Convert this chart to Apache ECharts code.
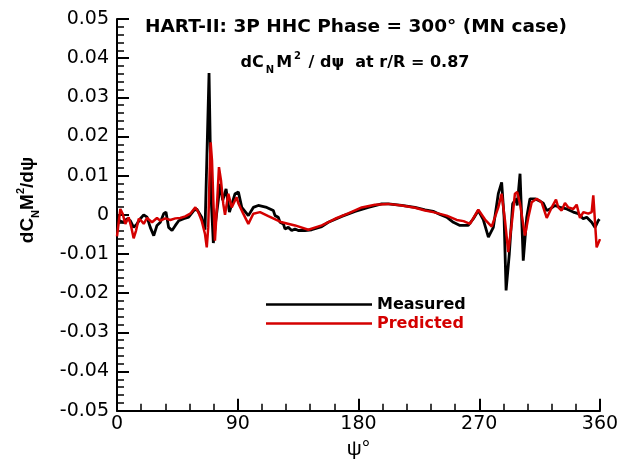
<!DOCTYPE html>
<html>
<head>
<meta charset="utf-8">
<script src="https://cdn.jsdelivr.net/npm/echarts/dist/echarts.min.js"></script>
<style>
html,body{margin:0;padding:0;background:#fff;}
#chart{width:629px;height:465px;}
</style>
</head>
<body>
<div id="chart"></div>
<script>
// Azimuth (deg) and dCnM^2/dpsi values
const measuredPsi = [0.4,1.7,5.0,7.5,9.9,12.4,14.9,17.4,19.9,22.4,24.8,27.4,29.8,32.3,34.8,36.5,38.5,41.0,43.5,46.0,49.7,53.4,57.2,59.4,63.1,65.6,68.6,70.2,71.8,73.6,75.5,76.8,78.8,81.3,83.8,88.0,90.5,93.0,97.9,101.6,105.3,111.6,116.5,117.8,120.2,121.5,124.0,125.2,127.7,130.2,132.7,135.1,140.1,145.1,152.6,157.5,167.5,177.4,187.3,197.3,202.2,212.2,222.1,229.6,235.7,240.7,245.7,250.7,255.6,261.8,265.6,269.3,273.0,276.8,280.5,284.2,286.7,288.5,290.0,292.4,294.9,297.4,298.3,300.4,302.8,305.4,307.8,311.5,315.3,317.7,320.3,322.7,326.5,330.2,335.2,340.1,343.8,347.5,350.1,353.8,356.3,358.7,359.6];
const measuredValue = [0.0,-0.0015,-0.0019,-0.001,-0.0015,-0.0032,-0.0023,-0.001,0.0,-0.0006,-0.0032,-0.0053,-0.0027,-0.0019,0.0003,0.0007,-0.0032,-0.004,-0.0027,-0.0015,-0.001,-0.0006,0.0011,0.0015,-0.0006,-0.0038,0.0362,0.004,-0.0072,-0.0015,0.0037,0.0079,0.0037,0.0066,0.0007,0.0054,0.0058,0.0019,-0.0002,0.0019,0.0024,0.0019,0.0011,-0.0002,-0.0006,-0.0019,-0.0023,-0.0036,-0.0032,-0.004,-0.0036,-0.004,-0.004,-0.0038,-0.003,-0.0019,-0.0004,0.0009,0.0019,0.0028,0.0028,0.0024,0.0019,0.0013,0.0009,0.0001,-0.0006,-0.0019,-0.0027,-0.0027,-0.001,0.0011,-0.0012,-0.0057,-0.0032,0.0054,0.0083,-0.0006,-0.0193,-0.01,0.0028,0.0041,0.0024,0.0105,-0.0117,-0.0006,0.0041,0.0041,0.0035,0.003,0.0011,0.0015,0.0024,0.0019,0.0015,0.0007,0.0003,-0.001,-0.0006,-0.0019,-0.0032,-0.0015,-0.0011];
const predictedPsi = [0.0,2.5,4.2,6.2,8.7,10.7,12.4,14.2,16.2,18.1,19.9,22.4,24.1,26.1,29.8,32.3,36.0,39.7,43.5,47.2,50.9,54.6,58.4,60.6,63.1,65.6,66.9,68.0,69.1,69.8,70.8,71.8,73.0,74.3,76.0,77.5,79.2,80.5,83.0,85.5,89.1,90.4,94.1,97.9,101.6,106.6,112.8,122.8,132.7,142.6,152.6,162.5,172.4,182.4,192.3,202.2,212.2,222.1,229.6,235.7,245.7,253.2,258.3,263.1,269.3,274.3,279.3,284.2,286.7,289.2,291.6,294.2,296.6,298.3,300.4,304.1,306.6,309.1,312.8,316.5,320.3,324.0,327.2,328.9,331.4,333.9,336.4,340.1,342.6,345.1,347.6,351.3,353.8,355.0,357.5,360.0];
const predictedValue = [-0.0055,0.0015,0.0003,-0.0023,-0.0006,-0.0032,-0.006,-0.004,-0.001,-0.0015,-0.0023,-0.0008,-0.0013,-0.0019,-0.0008,-0.0015,-0.0009,-0.0013,-0.0009,-0.0008,-0.0004,0.0003,0.0019,0.0007,-0.0015,-0.0049,-0.0083,-0.0032,0.0113,0.0185,0.0139,0.0037,-0.0066,0.0011,0.0122,0.0088,0.0028,0.0,0.0054,0.0019,0.0045,0.003,0.0003,-0.0023,0.0003,0.0007,-0.0003,-0.0019,-0.0027,-0.0038,-0.0027,-0.001,0.0004,0.0019,0.0026,0.0028,0.0024,0.0018,0.0011,0.0007,-0.0002,-0.0013,-0.0016,-0.0023,0.0013,-0.0012,-0.003,0.0019,0.0054,-0.0015,-0.0095,-0.0023,0.0054,0.0058,0.0028,-0.0053,-0.0006,0.0032,0.0041,0.0032,-0.0008,0.0019,0.0039,0.0019,0.0011,0.003,0.0019,0.0015,0.0026,-0.0008,0.0007,0.0003,0.0007,0.005,-0.0083,-0.0062];

const xTicks = [0, 90, 180, 270, 360];
const yTicks = [-0.05, -0.04, -0.03, -0.02, -0.01, 0, 0.01, 0.02, 0.03, 0.04, 0.05];
const seriesNames = ['Measured', 'Predicted'];

const zip = (a, b) => a.map((x, i) => [x, b[i]]);
const RED = '#d40000';
const tickFont = 'DejaVu Sans';

const chart = echarts.init(document.getElementById('chart'));
const axisCommon = {
  axisLine: { show: true, onZero: false, lineStyle: { color: '#000', width: 2 } },
  axisTick: { show: true, inside: true, length: 12, lineStyle: { color: '#000', width: 2 } },
  minorTick: { show: true, splitNumber: 5, length: 7, lineStyle: { color: '#000', width: 1.5 } },
  splitLine: { show: false },
  minorSplitLine: { show: false }
};
chart.setOption({
  animation: false,
  backgroundColor: '#fff',
  grid: { left: 117, right: 29, top: 19, bottom: 54.3, containLabel: false, outerBoundsMode: 'none' },
  xAxis: Object.assign({
    type: 'value', min: xTicks[0], max: xTicks[xTicks.length - 1], interval: xTicks[1] - xTicks[0],
    name: 'ψ°', nameLocation: 'middle', nameGap: 21,
    nameTextStyle: { fontFamily: 'Liberation Sans', fontSize: 21, color: '#000' },
    axisLabel: { fontFamily: tickFont, fontSize: 19, color: '#000', margin: 4,
      formatter: v => String(xTicks[xTicks.indexOf(v)] ?? v) }
  }, axisCommon),
  yAxis: Object.assign({
    type: 'value', min: yTicks[0], max: yTicks[yTicks.length - 1], interval: 0.01,
    axisLabel: { fontFamily: tickFont, fontSize: 19, color: '#000', margin: 8,
      formatter: v => String(Math.round(v * 100) / 100) }
  }, axisCommon),
  legend: {
    orient: 'vertical', left: 261, top: 290, itemWidth: 106, itemHeight: 2.6, itemGap: 0,
    icon: 'rect',
    textStyle: { fontFamily: 'DejaVu Sans', fontWeight: 'bold', fontSize: 16, lineHeight: 19 },
    data: [
      { name: seriesNames[0], textStyle: { color: '#000' }, itemStyle: { color: '#000' } },
      { name: seriesNames[1], textStyle: { color: RED }, itemStyle: { color: RED } }
    ]
  },
  graphic: [
    { type: 'text', x: 356, y: 27, silent: true,
      style: { text: 'HART-II: 3P HHC Phase = 300° (MN case)', font: 'bold 18.5px "DejaVu Sans"', fill: '#000',
        align: 'center', verticalAlign: 'middle', textAlign: 'center', textVerticalAlign: 'middle' } },
    { type: 'text', x: 355, y: 63, silent: true,
      style: {
        text: '{m|dC}{s|N}{m|M}{p|2}{m| / dψ  at r/R = 0.87}',
        align: 'center', verticalAlign: 'middle', textAlign: 'center', textVerticalAlign: 'middle',
        rich: {
          m: { fontFamily: 'DejaVu Sans', fontWeight: 'bold', fontSize: 16, lineHeight: 24, verticalAlign: 'middle', fill: '#000', color: '#000' },
          s: { fontFamily: 'DejaVu Sans', fontWeight: 'bold', fontSize: 10, lineHeight: 12, verticalAlign: 'bottom', fill: '#000', color: '#000', padding: [0, 2, 0, 2] },
          p: { fontFamily: 'DejaVu Sans', fontWeight: 'bold', fontSize: 10, lineHeight: 12, verticalAlign: 'top', fill: '#000', color: '#000', padding: [0, 2, 0, 2] }
        }
      } },
    { type: 'text', x: 28, y: 200, rotation: Math.PI / 2, silent: true,
      style: {
        text: '{m|dC}{s|N}{m|M}{p|2}{m|/dψ}',
        align: 'center', verticalAlign: 'middle', textAlign: 'center', textVerticalAlign: 'middle',
        rich: {
          m: { fontFamily: 'Liberation Sans', fontWeight: 'bold', fontSize: 19, lineHeight: 26, verticalAlign: 'middle', fill: '#000', color: '#000' },
          s: { fontFamily: 'Liberation Sans', fontWeight: 'bold', fontSize: 11, lineHeight: 13, verticalAlign: 'bottom', fill: '#000', color: '#000' },
          p: { fontFamily: 'Liberation Sans', fontWeight: 'bold', fontSize: 11, lineHeight: 13, verticalAlign: 'top', fill: '#000', color: '#000' }
        }
      } }
  ],
  series: [
    { name: seriesNames[0], type: 'line', symbol: 'none', data: zip(measuredPsi, measuredValue),
      lineStyle: { color: '#000', width: 2.8 }, itemStyle: { color: '#000' } },
    { name: seriesNames[1], type: 'line', symbol: 'none', data: zip(predictedPsi, predictedValue),
      lineStyle: { color: RED, width: 2.5 }, itemStyle: { color: RED } }
  ]
});
</script>
</body>
</html>
